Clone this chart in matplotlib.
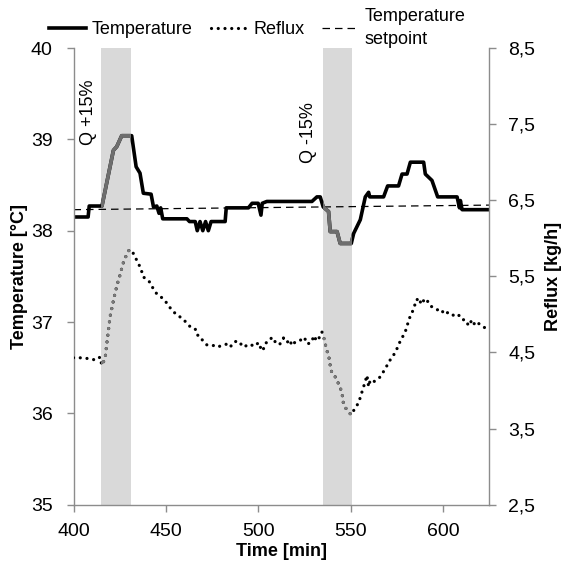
import numpy as np
import matplotlib
matplotlib.use('Agg')
from matplotlib import pyplot as plt
from matplotlib.lines import Line2D

plt.rcParams['font.family'] = ['Liberation Sans', 'DejaVu Sans']

#==============================================================================
# Datos
#==============================================================================
temp_time = [400, 407.9, 408.5, 415.4, 421.6, 423.4, 426.1, 431.5, 433.9,
             436.0, 437.8, 442.0, 443.3, 445.1, 446.3, 447.2, 448.3, 461.4, 462.8,
             465.9, 467.0, 468.5, 470.0, 471.5, 473.0, 474.5, 482.1, 482.7, 494.7,
             496.7, 500.0, 501.5, 502.2, 504.7, 529.1, 531.8, 533.6, 535.2, 538.1,
             539.0, 542.7, 544.4, 550.4, 551.7, 555.3, 558.0, 559.8, 560.4, 567.9,
             570.1, 576.0, 577.9, 580.6, 582.4, 589.6, 590.5, 594.1, 597.2, 607.7,
             609.0, 609.5, 610.4, 625]
temp_val = [38.15, 38.15, 38.27, 38.27, 38.88, 38.92, 39.04, 39.04, 38.70,
            38.63, 38.41, 38.40, 38.26, 38.27, 38.19, 38.25, 38.13, 38.13, 38.10,
            38.10, 38.00, 38.10, 38.00, 38.10, 38.00, 38.10, 38.10, 38.25, 38.25,
            38.30, 38.30, 38.17, 38.30, 38.32, 38.32, 38.37, 38.37, 38.26, 38.21,
            37.99, 37.99, 37.86, 37.86, 37.97, 38.12, 38.37, 38.42, 38.37, 38.37,
            38.49, 38.49, 38.62, 38.62, 38.75, 38.75, 38.62, 38.55, 38.37, 38.37,
            38.25, 38.33, 38.23, 38.23]

setpoint_time = [400, 625]
setpoint_val = [38.23, 38.28]

reflux_time = [400, 403.5, 407.9, 412.2, 414.4, 415.3, 417.1, 418.0, 418.9, 419.8,
               421.6, 422.5, 424.3, 425.6, 426.4, 427.9, 430.2, 431.5, 433.3, 434.8,
               436.6, 437.5, 438.9, 441.5, 443.3, 445.1, 447.8, 450.5, 452.8, 455.6,
               458.1, 460.4, 463.1, 465.9, 466.8, 468.2, 470.4, 472.2, 474.9, 477.6,
               480.3, 483.0, 484.8, 487.0, 489.3, 492.0, 495.3, 498.0, 500.2, 501.5,
               502.5, 503.8, 506.1, 507.4, 509.2, 511.5, 513.7, 515.6, 517.0, 518.3,
               520.1, 522.8, 524.9, 526.7, 529.1, 530.0, 531.8, 533.2, 534.5, 535.8,
               536.9, 538.3, 539.0, 539.9, 541.7, 543.5, 544.8, 545.7, 546.2, 548.1,
               550.4, 552.0, 554.4, 556.7, 558.0, 558.9, 559.8, 560.7, 562.9, 565.7,
               567.9, 569.8, 571.9, 574.3, 575.5, 577.3, 579.3, 580.6, 581.5, 583.3,
               584.6, 586.0, 587.4, 588.7, 590.0, 591.4, 592.8, 594.7, 596.9, 599.0,
               600.8, 603.1, 605.0, 606.8, 608.6, 610.4, 612.2, 614.0, 615.8, 617.6,
               619.4, 621.2, 623.0, 624.3]
reflux_val = [4.43, 4.43, 4.42, 4.40, 4.44, 4.33, 4.42, 4.61, 4.79, 4.97,
              5.18, 5.28, 5.45, 5.55, 5.64, 5.74, 5.85, 5.84, 5.76, 5.68,
              5.60, 5.50, 5.47, 5.42, 5.33, 5.27, 5.22, 5.15, 5.07, 5.00,
              4.96, 4.91, 4.84, 4.81, 4.73, 4.72, 4.64, 4.60, 4.60, 4.57,
              4.59, 4.61, 4.57, 4.64, 4.65, 4.57, 4.61, 4.58, 4.63, 4.55,
              4.52, 4.62, 4.65, 4.70, 4.64, 4.60, 4.69, 4.63, 4.67, 4.59,
              4.64, 4.66, 4.70, 4.61, 4.64, 4.72, 4.65, 4.70, 4.77, 4.67,
              4.55, 4.44, 4.33, 4.23, 4.18, 4.09, 4.01, 3.92, 3.82, 3.74,
              3.68, 3.75, 3.84, 4.02, 4.12, 4.20, 4.05, 4.14, 4.12, 4.17,
              4.25, 4.33, 4.42, 4.50, 4.57, 4.67, 4.75, 4.84, 4.93, 5.02,
              5.11, 5.20, 5.14, 5.21, 5.16, 5.19, 5.12, 5.09, 5.06, 5.07,
              5.00, 5.03, 5.00, 4.97, 4.99, 4.93, 4.93, 4.85, 4.93, 4.85,
              4.88, 4.85, 4.82, 4.76]

bands = [(415, 431), (535, 551)]
band_labels = ['Q +15%', 'Q -15%']
band_label_pos = [(408.3, 39.30), (527.3, 39.07)]

temp_ticks = [35, 36, 37, 38, 39, 40]
reflux_ticks = [2.5, 3.5, 4.5, 5.5, 6.5, 7.5, 8.5]
reflux_ticklabels = ['2,5', '3,5', '4,5', '5,5', '6,5', '7,5', '8,5']
time_ticks = [400, 450, 500, 550, 600]

#==============================================================================
# Grafico
#==============================================================================
gris = '#8c8c8c'
fig = plt.figure(figsize=(5.66, 5.63), dpi=100)
ax = fig.add_axes([0.1299, 0.1036, 0.7341, 0.8111])
ax2 = ax.twinx()

spans = []
for a, b in bands:
    spans.append(ax.axvspan(a, b, color='#d9d9d9', lw=0, zorder=0))

dots = (0, (0.01, 2.1))
lw_t = 2.6
lw_r = 2.3
ax.plot(setpoint_time, setpoint_val, color='black', lw=0.9, ls=(0, (6, 4)))
ax.plot(temp_time, temp_val, color='black', lw=lw_t)
ax2.plot(reflux_time, reflux_val, color='black', lw=lw_r, ls=dots,
         dash_capstyle='round')
for s in spans:
    l1, = ax.plot(temp_time, temp_val, color='#6e6e6e', lw=lw_t)
    l1.set_clip_path(s)
    l2, = ax2.plot(reflux_time, reflux_val, color='#7a7a7a', lw=lw_r, ls=dots,
                   dash_capstyle='round')
    l2.set_clip_path(s)

for txt, (x, y) in zip(band_labels, band_label_pos):
    ax.text(x, y, txt, rotation=90, ha='center', va='center', fontsize=13)

ax.set_xlim(400, 625)
ax.set_ylim(35, 40)
ax2.set_ylim(2.5, 8.5)
ax.set_xticks(time_ticks)
ax.set_yticks(temp_ticks)
ax2.set_yticks(reflux_ticks)
ax2.set_yticklabels(reflux_ticklabels)

for a in (ax, ax2):
    for sp in a.spines.values():
        sp.set_color(gris)
        sp.set_linewidth(1.0)
    a.spines['top'].set_visible(False)
ax.spines['right'].set_visible(False)
ax2.spines['left'].set_visible(False)
ax2.spines['bottom'].set_visible(False)

ax.tick_params(axis='both', direction='out', length=5, color=gris, width=1.0,
               labelsize=14)
ax.tick_params(axis='x', pad=8)
ax.tick_params(axis='y', pad=10)
ax2.tick_params(axis='y', direction='out', length=5, color=gris, width=1.0,
                labelsize=14, pad=9)

ax.set_xlabel('Time [min]', fontsize=13, fontweight='bold', labelpad=2)
ax.set_ylabel('Temperature [°C]', fontsize=13, fontweight='bold', labelpad=2)
ax2.set_ylabel('Reflux [kg/h]', fontsize=13, fontweight='bold', labelpad=7)

handles = [Line2D([], [], color='black', lw=lw_t),
           Line2D([], [], color='black', lw=lw_r, ls=dots, dash_capstyle='round'),
           Line2D([], [], color='black', lw=0.9, ls=(0, (6, 4)))]
leg = fig.legend(handles, ['Temperature', 'Reflux', 'Temperature\nsetpoint'],
                 ncol=3, loc='center', bbox_to_anchor=(0.455, 0.951),
                 frameon=False, fontsize=13, handlelength=2.0,
                 handletextpad=0.35, columnspacing=1.0,
                 borderpad=0, borderaxespad=0)
leg.get_texts()[2].set_linespacing(1.45)

plt.savefig('out.png', dpi=100)
plt.close()
